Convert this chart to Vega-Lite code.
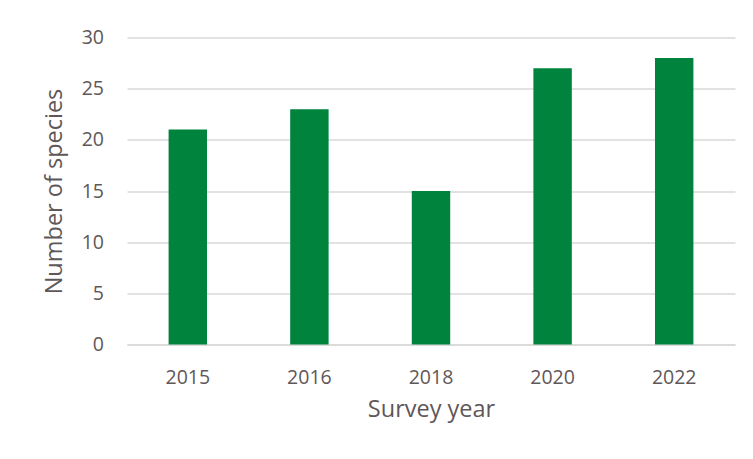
{
  "$schema": "https://vega.github.io/schema/vega-lite/v6.json",
  "width": 608,
  "height": 307,
  "autosize": {"type": "none"},
  "padding": {"left": 127, "top": 37.5, "right": 18, "bottom": 114.5},
  "background": "white",
  "config": {"view": {"stroke": null}, "font": "Open Sans"},
  "data": {"values": [
    {"year": "2015", "species": 21},
    {"year": "2016", "species": 23},
    {"year": "2018", "species": 15},
    {"year": "2020", "species": 27},
    {"year": "2022", "species": 28}
  ]},
  "mark": {"type": "bar", "color": "#00843D"},
  "encoding": {
    "x": {
      "field": "year", "type": "nominal", "sort": null,
      "scale": {"paddingInner": 0.684, "paddingOuter": 0.342},
      "axis": {
        "title": "Survey year", "labelAngle": 0, "ticks": false,
        "domainColor": "#d9d9d9", "domainWidth": 1.5,
        "labelFontSize": 19.5, "labelColor": "#5f5758", "labelPadding": 24,
        "labelFont": "Open Sans",
        "titleFontSize": 23.5, "titleColor": "#5f5758", "titleFontWeight": "normal",
        "titlePadding": 10, "titleFont": "Open Sans"
      }
    },
    "y": {
      "field": "species", "type": "quantitative",
      "scale": {"domain": [0, 30]},
      "axis": {
        "title": "Number of species", "values": [0, 5, 10, 15, 20, 25, 30],
        "ticks": false, "domain": false,
        "gridColor": "#d9d9d9", "gridWidth": 1.5,
        "labelFontSize": 19.5, "labelColor": "#5f5758", "labelPadding": 23.5,
        "labelFont": "Open Sans",
        "titleFontSize": 23.5, "titleColor": "#5f5758", "titleFontWeight": "normal",
        "titlePadding": 15, "titleFont": "Open Sans"
      }
    }
  }
}
